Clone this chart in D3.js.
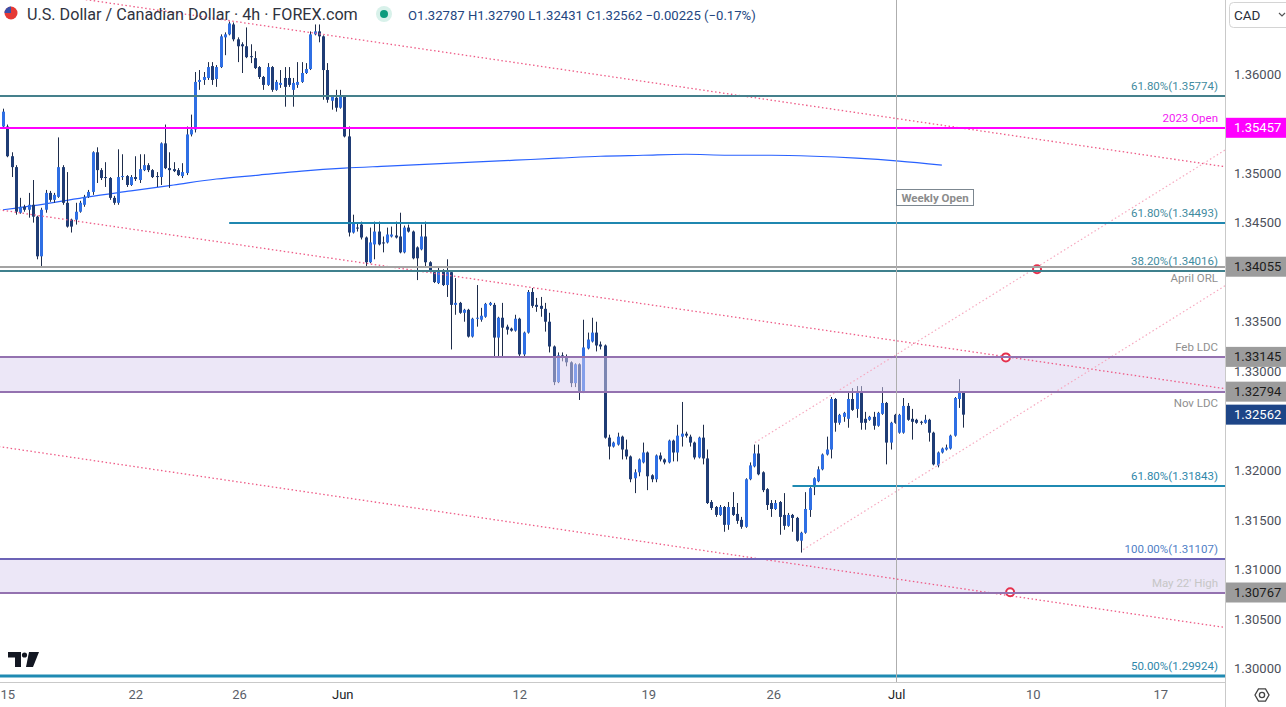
<!DOCTYPE html>
<html><head><meta charset="utf-8">
<script src="https://cdn.jsdelivr.net/npm/d3@7"></script>
<style>
html,body{margin:0;padding:0;background:#fff;}
svg{display:block;font-family:Roboto,"Noto Sans",sans-serif;}
</style></head><body>
<svg id="c" width="1286" height="707"></svg>
<script>
// ---------------- DATA ----------------
const candles = [ // [open, high, low, close] per 4h bar
[1.3547,1.3565,1.3546,1.3562],[1.3547,1.3549,1.3516,1.3517],[1.3517,1.3521,1.3496,1.3506],[1.3506,1.3508,1.3458,1.3461],
[1.3460,1.3475,1.3459,1.3466],[1.3466,1.3468,1.3461,1.3463],[1.3463,1.3480,1.3455,1.3468],[1.3468,1.3493,1.3450,1.3456],
[1.3456,1.3457,1.3413,1.3416],[1.3416,1.3465,1.3406,1.3463],[1.3463,1.3483,1.3460,1.3480],[1.3480,1.3482,1.3471,1.3473],
[1.3473,1.3480,1.3470,1.3478],[1.3476,1.3536,1.3475,1.3506],[1.3506,1.3508,1.3468,1.3470],[1.3470,1.3501,1.3445,1.3446],
[1.3453,1.3454,1.3440,1.3446],[1.3453,1.3470,1.3448,1.3461],[1.3461,1.3472,1.3460,1.3470],[1.3468,1.3478,1.3466,1.3476],
[1.3476,1.3483,1.3475,1.3481],[1.3481,1.3522,1.3478,1.3521],[1.3521,1.3526,1.3490,1.3503],[1.3503,1.3505,1.3493,1.3495],
[1.3496,1.3511,1.3486,1.3495],[1.3495,1.3496,1.3473,1.3475],[1.3475,1.3477,1.3468,1.3470],[1.3470,1.3524,1.3468,1.3496],
[1.3496,1.3519,1.3493,1.3497],[1.3497,1.3498,1.3486,1.3488],[1.3488,1.3498,1.3487,1.3496],[1.3496,1.3517,1.3492,1.3494],
[1.3493,1.3519,1.3490,1.3504],[1.3503,1.3519,1.3502,1.3508],[1.3508,1.3510,1.3501,1.3503],[1.3503,1.3504,1.3495,1.3496],
[1.3497,1.3501,1.3486,1.3496],[1.3496,1.3531,1.3488,1.3530],[1.3530,1.3549,1.3504,1.3505],[1.3505,1.3521,1.3485,1.3503],
[1.3504,1.3511,1.3501,1.3502],[1.3503,1.3505,1.3497,1.3498],[1.3497,1.3510,1.3495,1.3501],[1.3500,1.3547,1.3498,1.3539],
[1.3539,1.3559,1.3537,1.3544],[1.3544,1.3602,1.3541,1.3592],[1.3592,1.3604,1.3584,1.3594],[1.3594,1.3602,1.3589,1.3597],
[1.3596,1.3612,1.3594,1.3607],[1.3608,1.3612,1.3589,1.3594],[1.3595,1.3609,1.3587,1.3607],[1.3607,1.3640,1.3606,1.3638],
[1.3637,1.3642,1.3619,1.3640],[1.3640,1.3653,1.3639,1.3651],[1.3650,1.3652,1.3633,1.3635],[1.3635,1.3637,1.3612,1.3628],
[1.3630,1.3632,1.3601,1.3628],[1.3628,1.3647,1.3616,1.3617],[1.3618,1.3630,1.3611,1.3617],[1.3616,1.3623,1.3605,1.3606],
[1.3607,1.3608,1.3595,1.3597],[1.3597,1.3598,1.3584,1.3589],[1.3589,1.3611,1.3588,1.3607],[1.3607,1.3608,1.3582,1.3584],
[1.3584,1.3594,1.3583,1.3592],[1.3589,1.3604,1.3586,1.3591],[1.3596,1.3607,1.3567,1.3587],[1.3596,1.3607,1.3587,1.3589],
[1.3584,1.3596,1.3567,1.3591],[1.3589,1.3612,1.3586,1.3592],[1.3592,1.3612,1.3591,1.3601],[1.3601,1.3611,1.3600,1.3605],
[1.3605,1.3643,1.3604,1.3640],[1.3640,1.3650,1.3639,1.3643],[1.3643,1.3650,1.3632,1.3638],[1.3638,1.3639,1.3574,1.3604],
[1.3604,1.3611,1.3571,1.3574],[1.3573,1.3578,1.3564,1.3577],[1.3576,1.3584,1.3562,1.3566],[1.3566,1.3584,1.3565,1.3577],
[1.3577,1.3578,1.3536,1.3537],[1.3537,1.3547,1.3436,1.3440],[1.3440,1.3458,1.3439,1.3450],[1.3445,1.3450,1.3441,1.3444],
[1.3448,1.3451,1.3433,1.3435],[1.3435,1.3436,1.3406,1.3410],[1.3410,1.3445,1.3409,1.3430],[1.3428,1.3451,1.3413,1.3441],
[1.3441,1.3451,1.3427,1.3428],[1.3430,1.3436,1.3420,1.3429],[1.3430,1.3445,1.3429,1.3438],[1.3436,1.3446,1.3435,1.3438],
[1.3437,1.3451,1.3434,1.3435],[1.3436,1.3460,1.3419,1.3420],[1.3420,1.3447,1.3419,1.3445],[1.3445,1.3448,1.3440,1.3441],
[1.3441,1.3442,1.3413,1.3414],[1.3425,1.3426,1.3392,1.3414],[1.3423,1.3448,1.3422,1.3436],[1.3436,1.3451,1.3406,1.3410],
[1.3410,1.3411,1.3400,1.3401],[1.3400,1.3401,1.3389,1.3390],[1.3389,1.3405,1.3388,1.3402],[1.3402,1.3403,1.3386,1.3387],
[1.3387,1.3413,1.3375,1.3400],[1.3400,1.3401,1.3322,1.3367],[1.3367,1.3394,1.3357,1.3369],[1.3369,1.3370,1.3358,1.3359],
[1.3359,1.3363,1.3350,1.3362],[1.3362,1.3363,1.3334,1.3335],[1.3335,1.3354,1.3334,1.3353],[1.3353,1.3387,1.3345,1.3354],
[1.3352,1.3364,1.3350,1.3356],[1.3355,1.3369,1.3354,1.3368],[1.3367,1.3370,1.3366,1.3369],[1.3367,1.3369,1.3315,1.3334],
[1.3334,1.3355,1.3315,1.3354],[1.3354,1.3369,1.3315,1.3344],[1.3345,1.3347,1.3337,1.3342],[1.3343,1.3344,1.3340,1.3341],
[1.3341,1.3357,1.3340,1.3353],[1.3353,1.3354,1.3315,1.3317],[1.3317,1.3340,1.3315,1.3339],[1.3339,1.3382,1.3338,1.3380],
[1.3380,1.3384,1.3364,1.3366],[1.3367,1.3374,1.3360,1.3365],[1.3366,1.3375,1.3355,1.3363],[1.3363,1.3369,1.3340,1.3350],
[1.3350,1.3359,1.3319,1.3325],[1.3325,1.3326,1.3286,1.3289],[1.3289,1.3319,1.3288,1.3316],[1.3316,1.3319,1.3310,1.3315],
[1.3315,1.3317,1.3305,1.3309],[1.3309,1.3310,1.3284,1.3288],[1.3288,1.3308,1.3284,1.3307],[1.3307,1.3308,1.3271,1.3279],
[1.3279,1.3352,1.3278,1.3324],[1.3323,1.3339,1.3322,1.3332],[1.3330,1.3354,1.3329,1.3339],[1.3339,1.3350,1.3320,1.3326],
[1.3327,1.3330,1.3322,1.3325],[1.3326,1.3327,1.3232,1.3233],[1.3233,1.3236,1.3211,1.3224],[1.3224,1.3229,1.3223,1.3228],
[1.3226,1.3238,1.3225,1.3234],[1.3234,1.3235,1.3211,1.3221],[1.3221,1.3231,1.3211,1.3214],[1.3214,1.3215,1.3188,1.3191],
[1.3192,1.3201,1.3177,1.3198],[1.3198,1.3212,1.3194,1.3211],[1.3208,1.3228,1.3207,1.3218],[1.3218,1.3219,1.3180,1.3194],
[1.3195,1.3196,1.3188,1.3191],[1.3191,1.3216,1.3188,1.3215],[1.3215,1.3218,1.3209,1.3211],[1.3211,1.3212,1.3206,1.3208],
[1.3208,1.3231,1.3207,1.3230],[1.3230,1.3231,1.3209,1.3218],[1.3218,1.3246,1.3209,1.3235],[1.3234,1.3269,1.3224,1.3237],
[1.3237,1.3239,1.3233,1.3235],[1.3234,1.3236,1.3224,1.3228],[1.3228,1.3229,1.3211,1.3213],[1.3213,1.3234,1.3212,1.3233],
[1.3233,1.3246,1.3206,1.3212],[1.3212,1.3221,1.3166,1.3167],[1.3168,1.3170,1.3160,1.3162],[1.3163,1.3164,1.3153,1.3155],
[1.3155,1.3165,1.3154,1.3163],[1.3163,1.3164,1.3138,1.3145],[1.3145,1.3168,1.3140,1.3163],[1.3163,1.3178,1.3154,1.3155],
[1.3156,1.3167,1.3146,1.3149],[1.3150,1.3153,1.3141,1.3143],[1.3143,1.3192,1.3142,1.3191],[1.3191,1.3208,1.3190,1.3205],
[1.3204,1.3226,1.3203,1.3217],[1.3217,1.3226,1.3195,1.3196],[1.3198,1.3199,1.3178,1.3180],[1.3181,1.3182,1.3160,1.3165],
[1.3167,1.3170,1.3153,1.3161],[1.3161,1.3170,1.3160,1.3167],[1.3168,1.3169,1.3135,1.3153],[1.3155,1.3177,1.3140,1.3144],
[1.3144,1.3157,1.3143,1.3155],[1.3155,1.3156,1.3138,1.3152],[1.3152,1.3153,1.3128,1.3129],[1.3129,1.3138,1.3117,1.3137],
[1.3137,1.3178,1.3136,1.3161],[1.3160,1.3183,1.3153,1.3182],[1.3183,1.3193,1.3175,1.3192],[1.3189,1.3204,1.3188,1.3201],
[1.3201,1.3217,1.3200,1.3216],[1.3216,1.3234,1.3215,1.3221],[1.3221,1.3274,1.3212,1.3272],[1.3272,1.3273,1.3239,1.3248],
[1.3248,1.3257,1.3246,1.3256],[1.3254,1.3259,1.3249,1.3258],[1.3252,1.3278,1.3243,1.3272],[1.3272,1.3283,1.3260,1.3261],
[1.3262,1.3285,1.3253,1.3278],[1.3278,1.3285,1.3241,1.3248],[1.3252,1.3259,1.3241,1.3248],[1.3251,1.3255,1.3250,1.3254],
[1.3254,1.3259,1.3241,1.3245],[1.3245,1.3259,1.3244,1.3258],[1.3257,1.3284,1.3256,1.3268],[1.3268,1.3269,1.3206,1.3228],
[1.3228,1.3249,1.3221,1.3248],[1.3256,1.3257,1.3247,1.3248],[1.3238,1.3257,1.3237,1.3256],[1.3238,1.3273,1.3237,1.3265],
[1.3265,1.3268,1.3250,1.3251],[1.3252,1.3262,1.3231,1.3249],[1.3251,1.3252,1.3247,1.3248],[1.3249,1.3250,1.3246,1.3248],
[1.3248,1.3256,1.3247,1.3251],[1.3251,1.3252,1.3229,1.3238],[1.3238,1.3239,1.3205,1.3206],[1.3205,1.3219,1.3203,1.3218],
[1.3218,1.3223,1.3217,1.3222],[1.3221,1.3226,1.3220,1.3223],[1.3222,1.3236,1.3221,1.3235],[1.3235,1.3274,1.3234,1.3273],
[1.3272,1.3292,1.3263,1.32787],[1.32787,1.32790,1.32431,1.32562]
];

const dateTickBars   = [1, 31, 55.3, 79.5, 121, 151.2, 180.5, 209.3, 241.3, 271.2];
const dateTickLabels = ["15","22","26","Jun","12","19","26","Jul","10","17"];
const monthLabels    = ["Jun","Jul"];

const priceTicks = [1.300,1.305,1.310,1.315,1.320,1.325,1.330,1.335,1.340,1.345,1.350,1.355,1.360,1.365];

const maBars   = [0,10,20,30,40,50,60,70,80,90,100,110,120,130,140,150,160,170,180,190,200,210,220];
const maValues = [1.3463,1.3469,1.3476,1.3482,1.3488,1.3494,1.3498,1.3502,1.3505,1.3507,1.3509,1.3511,
                  1.3513,1.3515,1.3517,1.3518,1.3519,1.3518,1.3518,1.3517,1.3515,1.3512,1.3508];

const levelValues = [1.35774,1.35457,1.34493,1.34055,1.34016,1.33145,1.32794,1.31843,1.31107,1.30767,1.29924];
const levelLabels = ["61.80%(1.35774)","2023 Open","61.80%(1.34493)","April ORL","38.20%(1.34016)",
                     "Feb LDC","Nov LDC","61.80%(1.31843)","100.00%(1.31107)","May 22' High","50.00%(1.29924)"];
const levelStartBars = [null,null,53,null,null,null,null,185,null,null,null];

const zoneTops    = [1.33145, 1.31107];
const zoneBottoms = [1.32794, 1.30767];

const channelLines = [ // [[bar, price],[bar, price]]
  [[-1,1.3688],[287,1.3506]],
  [[-1,1.3463],[287,1.3282]],
  [[-1,1.3224],[287,1.3041]]
];
const risingLines = [
  [[176.2,1.3228],[287,1.3525]],
  [[187.5,1.3120],[287,1.3388]]
];
const markerBars   = [242.3, 235, 236];
const markerPrices = [1.3403, 1.3314, 1.3077];

const weeklyOpenBar = 209.3;
const tagValues = [1.35457,1.34055,1.33145,1.32794,1.32562,1.30767];

const title = "U.S. Dollar / Canadian Dollar · 4h · FOREX.com";
const currency = "CAD";

// ---------------- CHART ----------------
const svg = d3.select("#c");
const plotR = 1225, plotB = 682;
const x = d3.scaleLinear().domain([0, 225]).range([3, 963.2]);
const y = d3.scaleLinear().domain([1.30, 1.36]).range([668.5, 74]);

svg.append("rect").attr("width",1286).attr("height",707).attr("fill","#fff");
svg.append("clipPath").attr("id","plot").append("rect").attr("x",0).attr("y",0).attr("width",plotR).attr("height",plotB);
const plot = svg.append("g").attr("clip-path","url(#plot)");

// MA line
plot.append("path")
  .datum(maBars.map((b,i)=>[b,maValues[i]]))
  .attr("fill","none").attr("stroke","#2962ff").attr("stroke-width",1.2)
  .attr("d", d3.line().x(d=>x(d[0])).y(d=>y(d[1])).curve(d3.curveMonotoneX));

// candles
const upCol = "#2f6fe4", dnCol = "#1f3c75", wickCol = "#1e2c4a";
const cg = plot.append("g");
candles.forEach((c,i)=>{
  const cx = Math.round(x(i));
  const up = c[3] >= c[0];
  cg.append("line").attr("x1",cx+0.5).attr("x2",cx+0.5)
    .attr("y1",y(c[1])).attr("y2",y(c[2])).attr("stroke",wickCol).attr("stroke-width",1);
  const top = y(Math.max(c[0],c[3])), bot = y(Math.min(c[0],c[3]));
  cg.append("rect").attr("x",cx-1).attr("width",3)
    .attr("y",top).attr("height",Math.max(1,bot-top))
    .attr("fill",up?upCol:dnCol);
});

// zones
zoneTops.forEach((t,i)=>{
  plot.append("rect").attr("x",0).attr("width",plotR)
    .attr("y",y(t)).attr("height",y(zoneBottoms[i])-y(t))
    .attr("fill","#d9d0ef").attr("opacity",0.5);
});

// level lines
const levelStyle = {
  "61.80%(1.35774)":{s:"#45808c",w:2,t:"#3f8ba0",pos:"above"},
  "2023 Open":{s:"#ff00ff",w:2,t:"#f21af2",pos:"above"},
  "61.80%(1.34493)":{s:"#1f87b0",w:2,t:"#3f8ba0",pos:"above"},
  "April ORL":{s:"#a3a3a3",w:2,t:"#8f8f8f",pos:"below"},
  "38.20%(1.34016)":{s:"#3f808d",w:2,t:"#3f8ba0",pos:"above"},
  "Feb LDC":{s:"#9472b0",w:2,t:"#8f8f8f",pos:"above"},
  "Nov LDC":{s:"#9472b0",w:2,t:"#8f8f8f",pos:"below"},
  "61.80%(1.31843)":{s:"#1f8ab2",w:2,t:"#2f87aa",pos:"above"},
  "100.00%(1.31107)":{s:"#6c63b6",w:2,t:"#4f80c6",pos:"above"},
  "May 22' High":{s:"#9472b0",w:2,t:"#c6c6c6",pos:"above"},
  "50.00%(1.29924)":{s:"#1f8ab2",w:3,t:"#2f87aa",pos:"above"}
};
const lg = svg.append("g");
levelValues.forEach((v,i)=>{
  const st = levelStyle[levelLabels[i]];
  const yy = Math.round(y(v));
  const x0 = levelStartBars[i]==null ? 0 : x(levelStartBars[i]);
  lg.append("line").attr("x1",x0).attr("x2",plotR).attr("y1",yy).attr("y2",yy)
    .attr("stroke",st.s).attr("stroke-width",st.w);
  lg.append("text").attr("x",1218).attr("y", st.pos==="above"? yy-6 : yy+15)
    .attr("text-anchor","end").attr("font-size",11.5).attr("fill",st.t)
    .text(levelLabels[i]);
});

// channel / trend lines
channelLines.forEach(l=>{
  plot.append("line").attr("x1",x(l[0][0])).attr("y1",y(l[0][1]))
    .attr("x2",x(l[1][0])).attr("y2",y(l[1][1]))
    .attr("stroke","#ee5b86").attr("stroke-width",1.3).attr("stroke-dasharray","1.5,2.5");
});
risingLines.forEach(l=>{
  plot.append("line").attr("x1",x(l[0][0])).attr("y1",y(l[0][1]))
    .attr("x2",x(l[1][0])).attr("y2",y(l[1][1]))
    .attr("stroke","#f6a9bf").attr("stroke-width",1.2).attr("stroke-dasharray","1.5,2.5");
});
markerBars.forEach((b,i)=>{
  plot.append("circle").attr("cx",x(b)).attr("cy",y(markerPrices[i])).attr("r",4)
    .attr("fill","#fff").attr("stroke","#e5304d").attr("stroke-width",2);
});

// weekly open vertical line + label
const wx = Math.round(x(weeklyOpenBar))+0.5;
svg.append("line").attr("x1",wx).attr("x2",wx).attr("y1",0).attr("y2",plotB)
  .attr("stroke","#aeaeae").attr("stroke-width",1);
svg.append("rect").attr("x",wx).attr("y",189.5).attr("width",77).attr("height",16)
  .attr("fill","#fff").attr("stroke","#7c8790").attr("stroke-width",1);
svg.append("text").attr("x",wx+38.5).attr("y",202).attr("text-anchor","middle")
  .attr("font-size",11.5).attr("font-weight","bold").attr("fill","#8c8c8c").text("Weekly Open");

// axes
svg.append("line").attr("x1",plotR+0.5).attr("x2",plotR+0.5).attr("y1",0).attr("y2",707).attr("stroke","#c9c9c9");
svg.append("line").attr("x1",0).attr("x2",plotR).attr("y1",plotB+0.5).attr("y2",plotB+0.5).attr("stroke","#c9c9c9");

// price ticks covered by a price tag or the currency button are hidden (as in the reference)
const visibleTicks = priceTicks.filter(v => y(v) > 32 && tagValues.every(t => Math.abs(y(t)-y(v)) > 11));
const yAxis = svg.append("g").attr("transform",`translate(${plotR},0)`)
  .call(d3.axisRight(y).tickValues(visibleTicks).tickFormat(d3.format(".5f")).tickSize(0).tickPadding(9));
yAxis.select(".domain").remove();
yAxis.selectAll("text").attr("font-family","Roboto").attr("font-size",13).attr("fill","#4c505a");

const xAxis = svg.append("g").attr("transform",`translate(0,${plotB})`)
  .call(d3.axisBottom(x).tickValues(dateTickBars).tickFormat((d,i)=>dateTickLabels[i]).tickSize(0).tickPadding(8));
xAxis.select(".domain").remove();
xAxis.selectAll("text").attr("font-family","Roboto").attr("font-size",13)
  .attr("fill",function(d,i){return monthLabels.includes(dateTickLabels[i])?"#1a1d26":"#5a5e68";});

// price tags
const tagStyle = [
  {bg:"#ff00ff",fg:"#fff"},{bg:"#9c9c9c",fg:"#1c1c1c"},{bg:"#9c9c9c",fg:"#1c1c1c"},
  {bg:"#9c9c9c",fg:"#1c1c1c"},{bg:"#1d4587",fg:"#fff"},{bg:"#9c9c9c",fg:"#1c1c1c"}
];
tagValues.forEach((v,i)=>{
  const yy = y(v);
  svg.append("rect").attr("x",plotR+1).attr("y",yy-10).attr("width",1286-plotR-1).attr("height",20)
    .attr("fill",tagStyle[i].bg);
  svg.append("text").attr("x",plotR+9).attr("y",yy+4.5).attr("font-size",13)
    .attr("fill",tagStyle[i].fg).text(d3.format(".5f")(v));
});

// CAD button
svg.append("rect").attr("x",1229.5).attr("y",2.5).attr("width",62).attr("height",25).attr("rx",4)
  .attr("fill","#fff").attr("stroke","#d4d4d4");
svg.append("text").attr("x",1234).attr("y",20).attr("font-size",13.5).attr("fill","#2a2e39").text(currency);
svg.append("path").attr("d","M1279 13 l3 3 l3 -3").attr("fill","none").attr("stroke","#555").attr("stroke-width",1.2);

// gear icon
const gx=1262, gy=695;
svg.append("path").attr("d", d3.range(6).map((k,j)=>{const a=Math.PI/3*k; return (j?"L":"M")+(gx+7*Math.cos(a))+" "+(gy+7*Math.sin(a));}).join("")+"Z")
  .attr("fill","none").attr("stroke","#444").attr("stroke-width",1.3);
svg.append("circle").attr("cx",gx).attr("cy",gy).attr("r",2.6).attr("fill","none").attr("stroke","#444").attr("stroke-width",1.3);

// TradingView logo
svg.append("path").attr("d","M8 652 H21 V667 H15 V657.5 H8 Z").attr("fill","#131722");
svg.append("circle").attr("cx",24.5).attr("cy",655).attr("r",2.6).attr("fill","#131722");
svg.append("path").attr("d","M29 652 H39 L33 667 H26 Z").attr("fill","#131722");

// header
svg.append("circle").attr("cx",11).attr("cy",13).attr("r",6.5).attr("fill","#e53935");
svg.append("path").attr("d","M11 6.5 A6.5 6.5 0 0 0 4.5 13 H11 Z").attr("fill","#3a4fa8");
const tt = svg.append("text").attr("x",27).attr("y",20).attr("font-size",15).attr("fill","#2f3340").text(title);
const tw = tt.node().getComputedTextLength();
tt.attr("font-size", 15*331/tw);

svg.append("circle").attr("cx",384).attr("cy",14).attr("r",8).attr("fill","#d8f1ea");
svg.append("circle").attr("cx",384).attr("cy",14).attr("r",4).attr("fill","#0d9b7d");

const last = candles[candles.length-1], prev = candles[candles.length-2];
const chg = last[3]-prev[3];
const fmt5 = d3.format(".5f");
const minus = s => s.replace("-","−");
const legend = `O${fmt5(last[0])} H${fmt5(last[1])} L${fmt5(last[2])} C${fmt5(last[3])} ${minus(fmt5(chg))} (${minus(d3.format(".2f")(chg/prev[3]*100))}%)`;
const lt = svg.append("text").attr("x",408).attr("y",19.5).attr("font-size",13).attr("fill","#23467f").text(legend);
const lw = lt.node().getComputedTextLength();
lt.attr("font-size", 13*348/lw);
</script>
</body></html>
